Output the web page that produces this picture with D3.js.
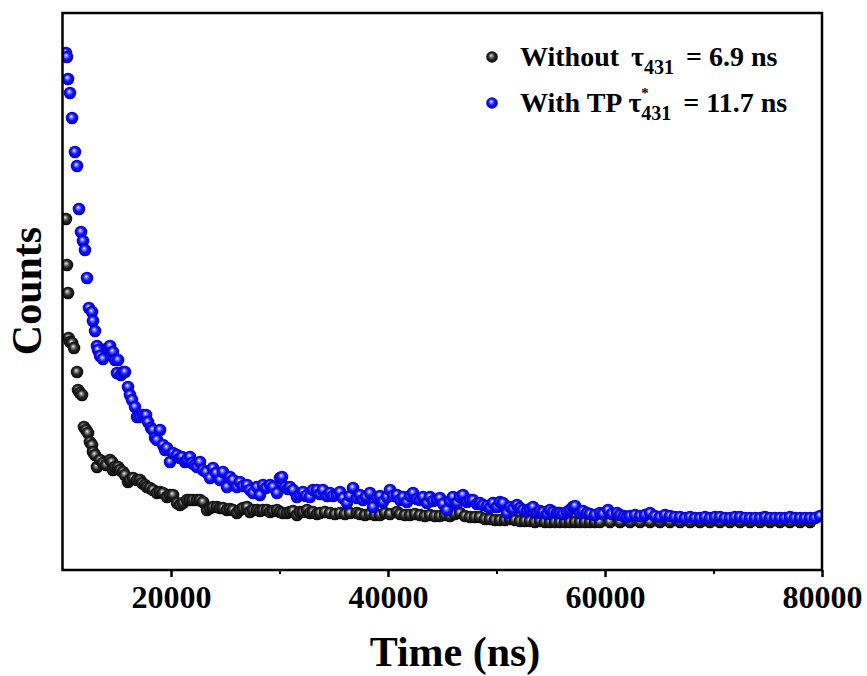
<!DOCTYPE html>
<html>
<head>
<meta charset="utf-8">
<script src="https://cdn.jsdelivr.net/npm/d3@7"></script>
<style>
  html, body { margin: 0; padding: 0; background: #fff; }
  svg { display: block; }
  text { font-family: "Liberation Serif", "Times New Roman", serif; font-weight: bold; fill: #000; }
</style>
</head>
<body>
<svg id="chart" width="867" height="676"></svg>
<script>
// ---------------- DATA ----------------
const timeWithout = [10320,10410,10510,10560,10690,10880,11060,11340,11430,11610,11800,11980,12170,12350,12530,12720,12810,13000,13180,13460,13730,14010,14380,14560,14650,14840,15120,15300,15580,15760,16040,16220,16500,16870,17140,17330,17600,17790,18060,18340,18710,18990,19260,19630,19910,20180,20550,20830,21110,21480,21750,22030,22400,22670,22950,23320,23600,23870,24240,24520,24790,25160,25440,25710,26080,26360,26640,27010,27280,27560,27930,28200,28480,28850,29130,29400,29770,30050,30320,30690,30970,31250,31610,31890,32170,32540,32810,33090,33460,33730,34190,34660,35120,35580,36040,36500,37140,37420,37880,38340,38800,39260,39720,40190,40830,41110,41570,42030,42490,42950,43410,43870,44330,44790,45260,45720,46180,46640,47100,47560,48020,48480,48940,49400,49860,50320,50790,51250,51710,52170,52630,53090,53550,54010,54470,54930,55390,55850,56320,56780,57240,57700,58160,58620,59080,59540,60460,61390,62310,63230,64150,65070,65990,66920,67840,68760,69680,70600,71520,72450,73370,74290,75210,76130,77050,77980,78900,79820];
const countsWithout = [3510,3050,2770,2320,2280,2270,2220,1980,1800,1770,1750,1430,1400,1370,1280,1250,1180,1150,1030,1100,1070,1050,1100,1080,1000,1030,1030,1000,980,950,880,900,920,900,900,870,850,830,820,800,770,780,770,730,750,750,670,650,670,700,700,700,700,700,680,600,620,630,630,620,620,600,610,600,570,600,620,630,580,600,600,590,600,600,580,590,600,580,570,570,580,590,550,580,580,600,570,580,560,570,580,570,560,570,560,570,570,560,550,560,550,550,570,560,580,560,550,550,560,550,540,550,540,540,550,540,560,570,540,530,530,530,510,510,500,500,500,510,500,490,490,490,480,490,480,480,480,480,480,480,480,480,480,480,480,480,480,480,480,480,480,480,480,480,480,480,480,480,480,480,480,480,480,480,480,480,480];

const timeWithTP = [10320,10410,10510,10690,10880,11150,11340,11520,11710,11890,12070,12260,12440,12720,12810,13000,13180,13270,13460,13730,14190,14380,14650,14840,15020,15120,15390,15580,15760,16040,16220,16410,16680,16870,17140,17420,17700,17880,18160,18340,18530,18710,18990,19260,19450,19630,19910,20180,20550,20830,21010,21290,21480,21750,21940,22210,22400,22670,22950,23230,23600,23870,24150,24520,24790,25160,25440,25710,26080,26360,26640,27010,27280,27560,27930,28200,28480,28760,29130,29400,29770,30050,30230,30510,30780,30970,31250,31610,31890,32170,32440,32810,33090,33460,33730,34010,34380,34660,34930,35300,35580,35850,36220,36500,36780,37140,37420,37700,37970,38340,38620,38990,39260,39540,39910,40190,40460,40830,41110,41380,41750,42030,42310,42670,42950,43230,43600,43870,44150,44520,44790,45070,45440,45720,45990,46360,46640,46910,47280,47560,47840,48200,48480,48760,49130,49400,49680,50050,50320,50600,50970,51250,51520,51890,52170,52440,52810,53090,53370,53730,54010,54290,54660,54930,55210,55580,55850,56130,56500,56780,57050,57240,57700,57970,58340,58620,59080,59540,59820,60280,60650,61110,61390,61750,62030,62310,62770,63230,63690,64150,64610,65070,65530,65990,66450,66920,67380,67840,68300,68760,69220,69680,70140,70600,71060,71520,71980,72450,72910,73370,73830,74290,74750,75210,75670,76130,76590,77050,77510,77980,78440,78900,79360,79820];
const countsWithTP = [5170,5130,4910,4770,4520,4180,4040,3610,3380,3290,3200,2920,2620,2580,2490,2390,2240,2200,2140,2110,2220,2240,2180,2100,1970,2100,1950,1980,1980,1830,1750,1700,1630,1530,1530,1550,1550,1480,1420,1400,1320,1300,1400,1250,1200,1220,1080,1170,1150,1120,1130,1080,1100,1130,1070,1050,1030,1080,1000,980,920,1020,970,900,980,830,930,900,830,880,840,850,800,770,830,750,850,820,850,830,770,920,930,830,810,830,800,730,750,780,740,730,800,800,760,800,740,770,740,750,780,720,670,740,820,720,750,700,730,770,630,720,740,680,730,800,740,750,700,730,680,740,770,710,700,730,670,730,690,700,720,660,600,690,730,670,730,750,680,700,700,660,670,650,640,620,670,630,680,670,570,630,610,650,620,600,590,610,630,570,590,580,560,600,580,570,570,560,580,600,630,640,570,590,570,560,550,570,560,600,560,570,550,540,530,540,550,540,550,570,540,530,550,540,530,530,520,530,520,520,530,520,530,530,520,520,530,530,520,520,520,520,530,520,520,520,520,530,520,520,520,520,520,540];

const xTicks = [20000, 40000, 60000, 80000];
const xMinorTicks = [30000, 50000, 70000];
const xTitle = "Time (ns)";
const yTitle = "Counts";
const seriesNames = ["Without", "With TP"];

// ---------------- LAYOUT ----------------
const svg = d3.select("#chart");
const M = { left: 62.5, right: 822, top: 13, bottom: 570 };

const x = d3.scaleLinear().domain([10000, 80000]).range([M.left, M.right]);
const y = d3.scaleLinear().domain([0, 5570]).range([M.bottom, M.top]);

// gradients for shaded balls
const defs = svg.append("defs");
function ballGrad(id, stops) {
  const g = defs.append("radialGradient").attr("id", id)
    .attr("cx", "50%").attr("cy", "50%").attr("r", "55%")
    .attr("fx", "42%").attr("fy", "36%");
  stops.forEach(s => g.append("stop").attr("offset", s[0]).attr("stop-color", s[1]));
}
ballGrad("gBlack", [["0%", "#f0f0f0"], ["22%", "#8a8a8a"], ["50%", "#2a2a2a"], ["100%", "#000"]]);
ballGrad("gBlue", [["0%", "#ffffff"], ["22%", "#7a7aff"], ["50%", "#1010ff"], ["100%", "#0000b0"]]);

const R = 6.3;
const dataWithout = timeWithout.map((t, i) => ({ t, c: countsWithout[i] }));
const dataWithTP = timeWithTP.map((t, i) => ({ t, c: countsWithTP[i] }));

const clip = defs.append("clipPath").attr("id", "clip");
clip.append("rect").attr("x", M.left).attr("y", M.top)
  .attr("width", M.right - M.left).attr("height", M.bottom - M.top);

const plot = svg.append("g").attr("clip-path", "url(#clip)");
plot.append("g").selectAll("circle").data(dataWithout).join("circle")
  .attr("cx", d => x(d.t)).attr("cy", d => y(d.c)).attr("r", R)
  .attr("fill", "url(#gBlack)");
plot.append("g").selectAll("circle").data(dataWithTP).join("circle")
  .attr("cx", d => x(d.t)).attr("cy", d => y(d.c)).attr("r", R)
  .attr("fill", "url(#gBlue)");

// frame
svg.append("rect").attr("x", M.left).attr("y", M.top)
  .attr("width", M.right - M.left).attr("height", M.bottom - M.top)
  .attr("fill", "none").attr("stroke", "#000").attr("stroke-width", 2.5);

// x axis
const xAxis = d3.axisBottom(x).tickValues(xTicks).tickFormat(d3.format("d"))
  .tickSize(7).tickPadding(8);
const gx = svg.append("g").attr("transform", `translate(0,${M.bottom})`).call(xAxis);
gx.select(".domain").remove();
gx.selectAll(".tick line").attr("stroke-width", 2.5);
gx.selectAll(".tick text").style("font-family", "'Liberation Serif', 'Times New Roman', serif")
  .style("font-weight", "bold").style("font-size", "32px").attr("fill", "#000");

const xMinor = d3.axisBottom(x).tickValues(xMinorTicks).tickSize(4).tickFormat("");
const gxm = svg.append("g").attr("transform", `translate(0,${M.bottom})`).call(xMinor);
gxm.select(".domain").remove();
gxm.selectAll(".tick line").attr("stroke-width", 2);

// titles
svg.append("text").attr("x", 455).attr("y", 666).attr("text-anchor", "middle")
  .style("font-size", "42px").text(xTitle);
svg.append("text").attr("transform", "translate(41,291) rotate(-90)")
  .attr("text-anchor", "middle").style("font-size", "42px").text(yTitle);

// legend
const lg = svg.append("g");
const legX = 492, txtX = 520;
const rows = [
  { y: 57, grad: "url(#gBlack)", name: seriesNames[0], star: false, val: "= 6.9 ns" },
  { y: 103, grad: "url(#gBlue)", name: seriesNames[1], star: true, val: "= 11.7 ns" }
];
rows.forEach(r => {
  lg.append("circle").attr("cx", legX).attr("cy", r.y).attr("r", 5.8).attr("fill", r.grad);
  const t = lg.append("text").attr("x", txtX).attr("y", r.y + 9).style("font-size", "28px");
  t.append("tspan").text(r.name);
  t.append("tspan").attr("dx", r.star ? 6 : 12).text("τ");
  if (r.star) {
    const st = t.append("tspan").attr("dy", -14).style("font-size", "15px").text("*");
    const w = st.node().getComputedTextLength();
    t.append("tspan").attr("dx", -w).attr("dy", 22).style("font-size", "20px").text("431");
    t.append("tspan").attr("dx", 12).attr("dy", -8).text(r.val);
  } else {
    t.append("tspan").attr("dy", 8).style("font-size", "20px").text("431");
    t.append("tspan").attr("dx", 12).attr("dy", -8).text(r.val);
  }
});
</script>
</body>
</html>
